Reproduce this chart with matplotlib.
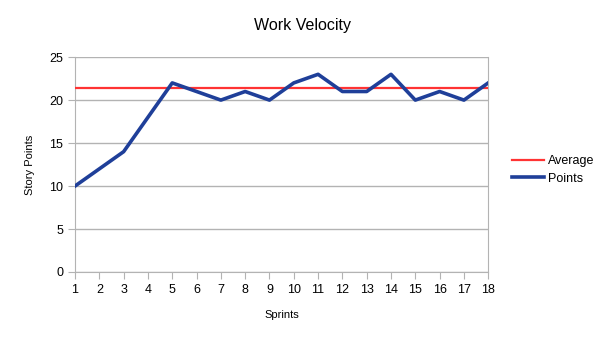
import matplotlib
matplotlib.use("Agg")
import matplotlib.pyplot as plt

plt.rcParams["font.family"] = ["Liberation Sans", "DejaVu Sans"]

sprints = list(range(1, 19))
points = [10, 12, 14, 18, 22, 21, 20, 21, 20, 22, 23, 21, 21, 23, 20, 21, 20, 22]
average = 21.4

GRID = "#b3b3b3"

fig = plt.figure(figsize=(6.05, 3.4), dpi=100)
ax = fig.add_axes([0.124, 0.2, 0.683, 0.632])

ax.plot(sprints, [average] * len(sprints), color="#ff3333", lw=1.6, label="Average", zorder=3)
ax.plot(sprints, points, color="#1f3f99", lw=2.6, label="Points", zorder=4)

ax.set_xlim(1, 18)
ax.set_ylim(0, 25)
ax.set_xticks(sprints)
ax.set_yticks(range(0, 26, 5))
ax.yaxis.grid(True, color=GRID, lw=1)
ax.set_axisbelow(True)
ax.spines["top"].set_visible(False)
for side in ["left", "right", "bottom"]:
    ax.spines[side].set_color(GRID)
ax.tick_params(axis="both", colors=GRID, labelcolor="black", labelsize=9, length=5)

fig.text(0.5, 0.925, "Work Velocity", ha="center", va="center", fontsize=11.5)
ax.set_xlabel("Sprints", fontsize=8, labelpad=10)
ax.set_ylabel("Story Points", fontsize=8, labelpad=10)

ax.legend(loc="center left", bbox_to_anchor=(1.03, 0.475), frameon=False,
          fontsize=9, handlelength=2.6, handletextpad=0.3, labelspacing=0.45)

fig.savefig("out.png", dpi=100, facecolor="white")
